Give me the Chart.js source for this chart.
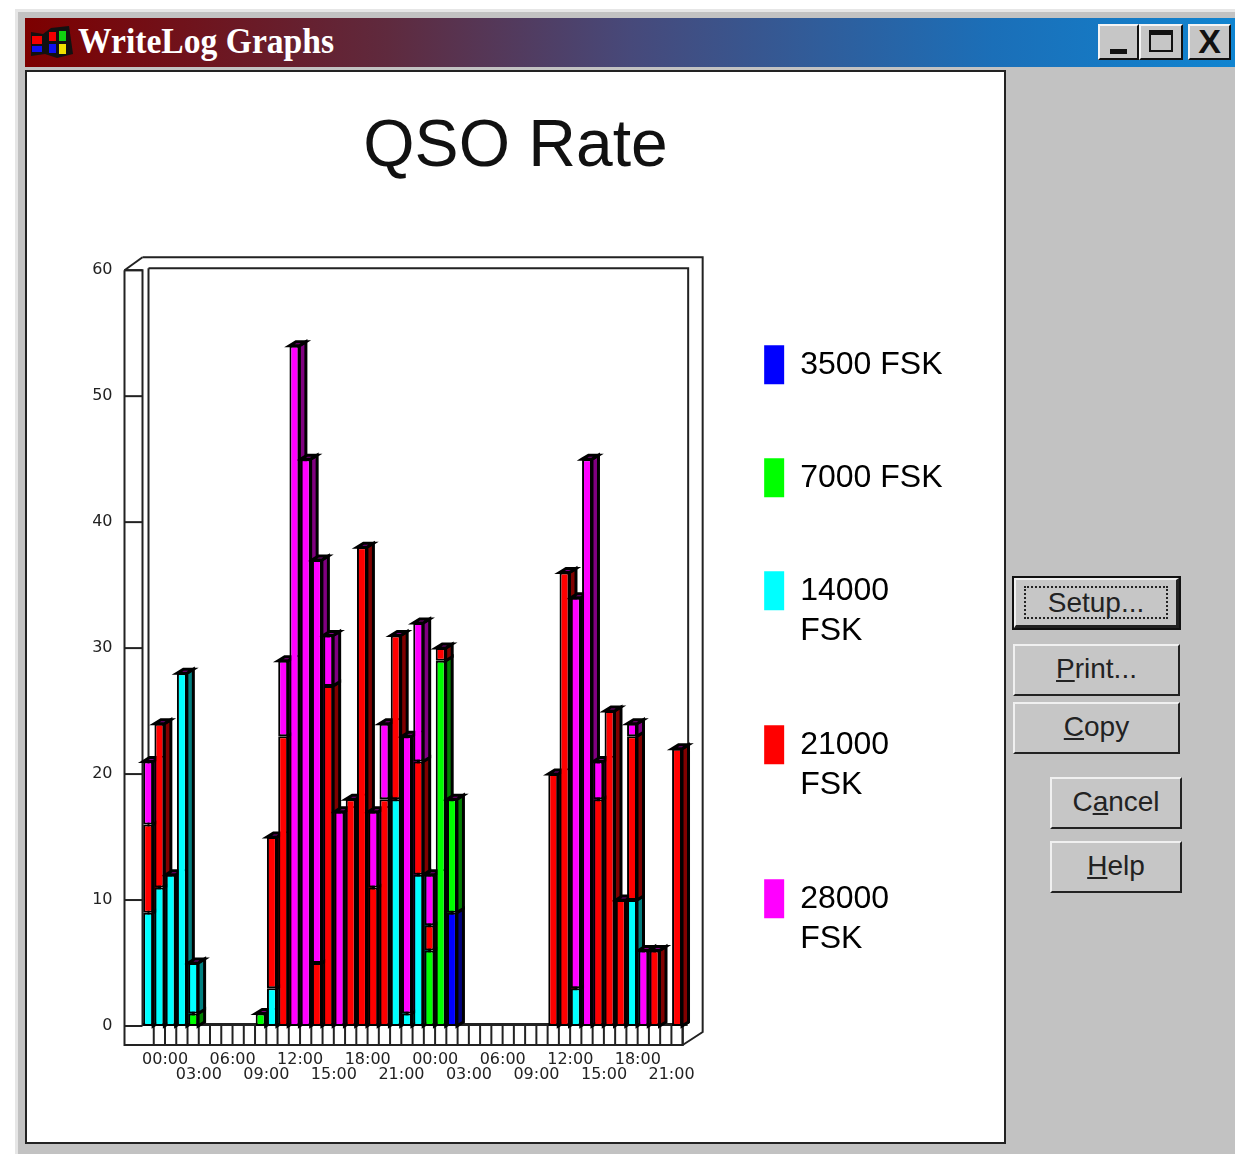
<!DOCTYPE html>
<html>
<head>
<meta charset="utf-8">
<title>WriteLog Graphs</title>
<script src="https://cdn.jsdelivr.net/npm/chart.js@4/dist/chart.umd.min.js"></script>
<style>
  html, body { margin: 0; padding: 0; background: #fff; }
  body { position: relative; width: 1235px; height: 1154px; overflow: hidden; font-family: "Liberation Sans", sans-serif; }
  .frame { position: absolute; left: 15px; top: 9px; width: 1220px; height: 1145px; background: #c2c2c2; border-left: 3px solid #e6e6e6; border-top: 3px solid #e6e6e6; box-sizing: border-box; }
  .titlebar { position: absolute; left: 25px; top: 18px; width: 1210px; height: 49px; background: linear-gradient(90deg, #7d0000 0%, #5f2a3e 30%, #47497a 50%, #1b6fb8 80%, #1084d0 100%); }
  .titlebar span { position: absolute; left: 53px; top: 4px; color: #fff; font: bold 35px "Liberation Serif", serif; white-space: nowrap; transform: scaleX(0.96); transform-origin: left; }
  .icon { position: absolute; left: 4px; top: 6px; }
  .winbtn { position: absolute; top: 24px; height: 36px; background: #c6c6c6; border: 2px solid; border-color: #f4f4f4 #111 #111 #f4f4f4; box-sizing: border-box; color: #111; text-align: center; }
  .panel { position: absolute; left: 25px; top: 70px; width: 981px; height: 1074px; background: #fff; border: 2px solid #222; box-sizing: border-box; }
  canvas { position: absolute; left: 27px; top: 72px; }
  .btn { position: absolute; background: #c6c6c6; border: 2px solid; border-color: #f0f0f0 #222 #222 #f0f0f0; box-sizing: border-box; font-size: 28px; color: #222; text-align: center; line-height: 46px; }
  .btn.def { outline: 2px solid #111; border-right-width: 3px; border-bottom-width: 3px; }
  .btn.def i { position: absolute; left: 8px; right: 8px; top: 6px; bottom: 6px; border: 2px dotted #222; }
</style>
</head>
<body>
<div class="frame"></div>
<div class="titlebar">
  <svg class="icon" width="44" height="36" viewBox="0 0 44 36">
    <path d="M2 8 L14 10 L22 4 L40 2 L44 30 L28 34 L16 30 L2 32 Z" fill="#111"/>
    <rect x="3" y="12" width="10" height="8" fill="#f00000"/><rect x="3" y="22" width="10" height="6" fill="#1010f0"/>
    <rect x="20" y="8" width="7" height="9" fill="#f00000"/><rect x="30" y="7" width="7" height="10" fill="#10d010"/>
    <rect x="20" y="20" width="7" height="9" fill="#1010f0"/><rect x="30" y="20" width="7" height="10" fill="#f0e000"/>
  </svg>
  <span>WriteLog Graphs</span>
</div>
<div class="winbtn" style="left:1098px;width:41px"><div style="position:absolute;left:10px;bottom:4px;width:17px;height:5px;background:#111"></div></div>
<div class="winbtn" style="left:1139px;width:44px"><div style="position:absolute;left:8px;top:4px;width:24px;height:22px;border:2px solid #111;border-top-width:5px;box-sizing:border-box"></div></div>
<div class="winbtn" style="left:1188px;width:43px;font:bold 34px/30px 'Liberation Sans'">X</div>
<div class="panel"></div>
<canvas id="QsoRate" width="977" height="1070"></canvas>
<div class="btn def" style="left:1014px;top:578px;width:165px;height:50px"><i></i>Setup...</div>
<div class="btn" style="left:1013px;top:644px;width:167px;height:52px"><u>P</u>rint...</div>
<div class="btn" style="left:1013px;top:702px;width:167px;height:52px"><u>C</u>opy</div>
<div class="btn" style="left:1050px;top:777px;width:132px;height:52px">C<u>a</u>ncel</div>
<div class="btn" style="left:1050px;top:841px;width:132px;height:52px"><u>H</u>elp</div>

<script>
const hours = [
  "00:00","01:00","02:00","03:00","04:00","05:00","06:00","07:00","08:00","09:00","10:00","11:00",
  "12:00","13:00","14:00","15:00","16:00","17:00","18:00","19:00","20:00","21:00","22:00","23:00",
  "00:00","01:00","02:00","03:00","04:00","05:00","06:00","07:00","08:00","09:00","10:00","11:00",
  "12:00","13:00","14:00","15:00","16:00","17:00","18:00","19:00","20:00","21:00","22:00","23:00"
];
const fsk3500  = [0,0,0,0,0,0,0,0,0,0,0,0, 0,0,0,0,0,0,0,0,0,0,0,0, 0,0,0,9,0,0,0,0,0,0,0,0, 0,0,0,0,0,0,0,0,0,0,0,0];
const fsk7000  = [0,0,0,0,1,0,0,0,0,0,1,0, 0,0,0,0,0,0,0,0,0,0,0,0, 0,6,29,9,0,0,0,0,0,0,0,0, 0,0,0,0,0,0,0,0,0,0,0,0];
const fsk14000 = [9,11,12,28,4,0,0,0,0,0,0,3, 0,0,0,0,0,0,0,0,0,0,18,1, 12,0,0,0,0,0,0,0,0,0,0,0, 0,0,3,0,0,0,0,10,0,0,0,0];
const fsk21000 = [7,13,0,0,0,0,0,0,0,0,0,12, 23,0,0,5,27,0,18,38,11,18,13,0, 9,2,1,0,0,0,0,0,0,0,0,0, 20,36,0,0,18,25,10,13,0,6,0,22];
const fsk28000 = [5,0,0,0,0,0,0,0,0,0,0,0, 6,54,45,32,4,17,0,0,6,6,0,22, 11,4,0,0,0,0,0,0,0,0,0,0, 0,0,31,45,3,0,0,1,6,0,0,0];
const yTicks = [0,10,20,30,40,50,60];
const seriesNames = ["3500 FSK","7000 FSK",["14000","FSK"],["21000","FSK"],["28000","FSK"]];
const seriesColors = ["#0000ff","#00ff00","#00ffff","#ff0000","#ff00ff"];
const sideColors = ["#000080","#008000","#008080","#800000","#800080"];
const seriesValues = [fsk3500,fsk7000,fsk14000,fsk21000,fsk28000];

// the old graph control draws a box around the plot, we do that here
const wallPlugin = {
  id: "wall",
  afterLayout(chart) {
    // layout caps the legend width, so pull its left edge back to where the boxes go
    chart.legend.left -= 151;
    chart.legend.top += 1;
  },
  beforeDatasetsDraw(chart) {
    const ctx = chart.ctx, a = chart.chartArea, xs = chart.scales.x, ys = chart.scales.y;
    const slot = xs.getPixelForValue(1) - xs.getPixelForValue(0);
    ctx.save();
    ctx.strokeStyle = "#222";
    ctx.lineWidth = 2;
    const line = (pts) => {
      ctx.beginPath();
      pts.forEach((p, i) => i ? ctx.lineTo(p[0], p[1]) : ctx.moveTo(p[0], p[1]));
      ctx.stroke();
    };
    // left strip, floor strip, back wall
    line([[a.left+6, a.top-2],[a.right+5.5, a.top-2],[a.right+5.5, a.bottom-2]]);
    line([[a.left+6, a.top-2],[a.left+6, a.bottom]]);
    line([[a.left, a.top-13],[a.right+20, a.top-13],[a.right+20, a.bottom+6],[a.right, a.bottom+19]]);
    line([[a.left-18, a.top],[a.left, a.top-13]]);
    line([[a.left-18, a.top],[a.left, a.top],[a.left, a.bottom]]);
    line([[a.left-18, a.top],[a.left-18, a.bottom+19],[a.right, a.bottom+19],[a.right, a.bottom]]);
    yTicks.forEach(t => line([[a.left-18, ys.getPixelForValue(t)],[a.left, ys.getPixelForValue(t)]]));
    hours.forEach((h, i) => {
      const x = xs.getPixelForValue(i) + slot/2;
      line([[x, a.bottom],[x, a.bottom+19]]);
    });
    ctx.lineWidth = 3;
    line([[a.left, a.bottom-1.5],[a.right+5, a.bottom-1.5]]);

    // sides and tops of the bars, the fronts are painted over them afterwards
    const dx = 6.5, dy = 4;
    hours.forEach((h, i) => {
      let topEl = null;
      ctx.lineWidth = 3;
      ctx.strokeStyle = "#000";
      seriesValues.forEach((vals, d) => {
        if (!vals[i]) return;
        const el = chart.getDatasetMeta(d).data[i];
        const r = el.x + el.width/2;
        ctx.fillStyle = sideColors[d];
        ctx.beginPath();
        ctx.moveTo(r, el.y);
        ctx.lineTo(r+dx, el.y-dy);
        ctx.lineTo(r+dx, el.base-dy);
        ctx.lineTo(r, el.base);
        ctx.closePath();
        ctx.fill();
        ctx.stroke();
        topEl = el;
      });
      if (topEl) {
        const l = topEl.x - topEl.width/2, r = topEl.x + topEl.width/2;
        ctx.fillStyle = "#800080";
        ctx.beginPath();
        ctx.moveTo(l, topEl.y);
        ctx.lineTo(l+dx, topEl.y-dy);
        ctx.lineTo(r+dx, topEl.y-dy);
        ctx.lineTo(r, topEl.y);
        ctx.closePath();
        ctx.fill();
        ctx.stroke();
      }
    });
    ctx.restore();
  }
};

const ctx = document.getElementById("QsoRate").getContext("2d");
new Chart(ctx, {
  type: "bar",
  data: {
    labels: hours,
    datasets: seriesValues.map((vals, d) => ({
      label: [].concat(seriesNames[d]).join(" "),
      data: vals,
      backgroundColor: seriesColors[d],
      borderColor: "#000",
      borderWidth: 2,
      borderSkipped: false,
      barPercentage: 0.94,
      categoryPercentage: 0.94,
    })),
  },
  options: {
    responsive: false,
    animation: false,
    layout: { padding: 0 },
    scales: {
      x: {
        stacked: true,
        grid: { display: false, drawTicks: false },
        border: { display: false },
        afterFit(scale) { scale.height = 116; },
        ticks: {
          autoSkip: false,
          maxRotation: 0,
          minRotation: 0,
          padding: 26,
          labelOffset: 17,
          color: "#222",
          font: { family: "DejaVu Sans", size: 16, lineHeight: "15px" },
          callback(value, i) {
            if (i % 3 !== 0) return "";
            return i % 6 === 0 ? [hours[i], ""] : ["", hours[i]];
          },
        },
      },
      y: {
        stacked: true,
        min: 0,
        max: 60,
        grid: { display: false, drawTicks: false },
        border: { display: false },
        afterFit(scale) { scale.width = 115.5; },
        ticks: {
          stepSize: 10,
          padding: 30,
          color: "#222",
          font: { family: "DejaVu Sans", size: 16 },
        },
      },
      // empty axis, only there to hold the gap between plot and legend
      spacer: {
        type: "linear",
        position: "right",
        display: true,
        grid: { display: false, drawTicks: false },
        border: { display: false },
        ticks: { display: false },
        afterFit(scale) { scale.width = 158.5; },
      },
    },
    plugins: {
      title: {
        display: true,
        text: "QSO Rate",
        color: "#111",
        font: { family: "Liberation Sans", size: 66, weight: "normal", lineHeight: 1.2 },
        padding: { top: 36, bottom: 83 },
      },
      legend: {
        position: "right",
        align: "start",
        fullSize: false,
        labels: {
          boxWidth: 20,
          boxHeight: 39,
          padding: 74,
          color: "#222",
          font: { family: "Liberation Sans", size: 32, lineHeight: "40px" },
          generateLabels(chart) {
            return seriesNames.map((n, d) => ({
              text: n,
              fillStyle: seriesColors[d],
              strokeStyle: seriesColors[d],
              lineWidth: 0,
              hidden: false,
              datasetIndex: d,
            }));
          },
        },
      },
      tooltip: { enabled: false },
    },
  },
  plugins: [wallPlugin],
});
</script>
</body>
</html>
